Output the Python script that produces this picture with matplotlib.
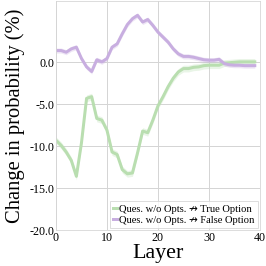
import numpy as np
import matplotlib
matplotlib.use("Agg")
import matplotlib.pyplot as plt

# data
layers = list(range(40))
true_opt = [-9.3, -9.9, -10.7, -11.7, -13.6, -9.6, -4.3, -4.1, -6.7, -6.9,
            -8.1, -10.7, -11.0, -12.8, -13.3, -13.2, -10.8, -8.2, -8.4, -6.9,
            -5.2, -4.1, -2.9, -1.9, -1.15, -0.75, -0.75, -0.6, -0.55, -0.4,
            -0.35, -0.35, -0.35, -0.1, -0.05, 0.0, 0.05, 0.05, 0.05, 0.05]
false_opt = [1.4, 1.4, 1.2, 1.6, 1.8, 0.45, -0.55, -1.1, 0.3, 0.05,
             0.45, 1.8, 2.2, 3.4, 4.5, 5.2, 5.6, 4.8, 5.1, 4.4,
             3.6, 3.0, 2.4, 1.6, 1.0, 0.7, 0.7, 0.6, 0.45, 0.3,
             0.25, 0.25, 0.35, -0.15, -0.3, -0.35, -0.35, -0.4, -0.4, -0.4]
true_err = 0.4
false_err = 0.3
labels = ["Ques. w/o Opts. \u219b True Option", "Ques. w/o Opts. \u219b False Option"]
yticks = [-20, -15, -10, -5, 0]
xticks = [0, 10, 20, 30, 40]

plt.rcParams['font.family'] = ['Liberation Serif', 'DejaVu Sans']
green = '#b9deb0'
purple = '#c8aee0'

fig = plt.figure(figsize=(266 / 72, 266 / 72), dpi=72)
ax = fig.add_axes([0.2105, 0.1353, 0.7665, 0.8607])

for y, err, c, lab in [(true_opt, true_err, green, labels[0]),
                       (false_opt, false_err, purple, labels[1])]:
    y = np.array(y)
    ax.fill_between(layers, y - err, y + err, color=c, alpha=0.3, lw=0)
    ax.plot(layers, y, color=c, lw=3, label=lab)

ax.set_xlim(0, 40)
ax.set_ylim(-20, 7.3)
ax.set_yticks(yticks)
ax.set_yticklabels([f"{v:.1f}" for v in yticks])
ax.set_xticks(xticks)
ax.tick_params(axis='both', labelsize=12, length=0, pad=2)
ax.grid(color='#d5d5d5', lw=1)
ax.set_axisbelow(True)
for s in ax.spines.values():
    s.set_color('#d5d5d5')
ax.set_xlabel('Layer', fontsize=22, labelpad=0)
ax.set_ylabel('Change in probability (%)', fontsize=20.5, labelpad=4)
leg = ax.legend(loc='lower right', fontsize=10.5, handlelength=0.4,
                handletextpad=0.2, borderpad=0.3, labelspacing=0.15,
                borderaxespad=0.2, frameon=True, fancybox=False)
leg.get_frame().set_edgecolor('#d5d5d5')

fig.savefig('out.png', dpi=72)
